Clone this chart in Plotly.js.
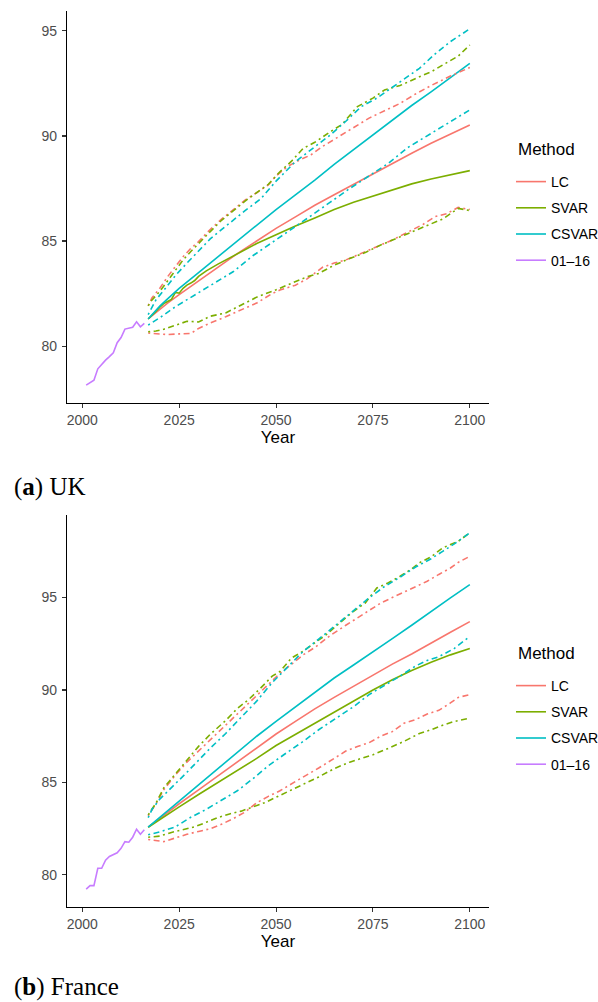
<!DOCTYPE html>
<html><head><meta charset="utf-8">
<script src="https://cdn.plot.ly/plotly-3.0.1.min.js"></script>
<style>html,body{margin:0;padding:0;background:#fff}#chart{width:598px;height:1002px}</style>
</head><body><div id="chart"></div>
<script>
// ---------------- DATA ----------------
const methods = ['LC', 'SVAR', 'CSVAR'];
const histLabel = '01\u201316';
const legendTitle = 'Method';
const xTicks = [2000, 2025, 2050, 2075, 2100];
const yTicks = [80, 85, 90, 95];

// UK
const ukHistYears = [2001,2002,2003,2004,2005,2006,2007,2008,2009,2010,2011,2012,2013,2014,2015,2016];
const ukHist = [78.14,78.27,78.38,78.92,79.14,79.33,79.5,79.68,80.16,80.41,80.81,80.86,80.9,81.16,80.92,81.08];

const ukMeanYears = [2017,2018,2019,2020,2022,2025,2030,2035,2040,2045,2050,2055,2060,2065,2070,2075,2080,2085,2090,2095,2100];
const ukLC = [81.29,81.45,81.6,81.75,82.05,82.45,83.1,83.75,84.4,85.0,85.6,86.15,86.7,87.2,87.7,88.2,88.7,89.18,89.65,90.1,90.52];
const ukCSVAR = [81.29,81.5,81.7,81.9,82.25,82.75,83.5,84.25,85.0,85.75,86.5,87.2,87.9,88.65,89.35,90.05,90.75,91.45,92.1,92.8,93.46];
const ukSVARYears = [2017,2018,2019,2020,2021,2022,2023,2024,2025,2026,2027,2028,2029,2030,2032,2035,2040,2045,2050,2055,2060,2065,2070,2075,2080,2085,2090,2095,2100];
const ukSVAR = [81.29,81.45,81.65,81.85,82.02,82.12,82.22,82.55,82.52,82.75,82.9,83.0,83.12,83.32,83.58,83.9,84.4,84.88,85.3,85.72,86.1,86.5,86.85,87.15,87.45,87.72,87.95,88.15,88.35];

const ukLCUpYears = [2017,2018,2020,2022,2024,2026,2028,2030,2033,2036,2039,2042,2045,2048,2050,2053,2056,2059,2062,2066,2070,2074,2078,2082,2086,2090,2095,2100];
const ukLCUp = [81.92,82.3,82.75,83.3,83.78,84.25,84.65,84.97,85.55,86.05,86.5,86.95,87.3,87.67,88.1,88.55,88.85,89.1,89.5,89.95,90.44,90.85,91.2,91.55,92.0,92.4,92.85,93.26];
const ukSVARUpYears = [2017,2018,2020,2022,2024,2026,2028,2030,2033,2036,2039,2042,2045,2048,2051,2054,2057,2060,2064,2067,2071,2075,2078,2082,2087,2090,2093,2097,2100];
const ukSVARUp = [81.92,82.2,82.6,83.1,83.55,84.1,84.5,84.9,85.45,86.0,86.45,86.9,87.3,87.7,88.3,88.8,89.41,89.7,90.2,90.55,91.4,91.8,92.19,92.4,92.82,93.05,93.38,93.8,94.33];
const ukCSVARUpYears = [2017,2019,2021,2024,2027,2030,2033,2036,2039,2042,2046,2050,2055,2060,2064,2068,2072,2076,2081,2084,2087,2091,2095,2100];
const ukCSVARUp = [81.5,82.2,82.65,83.35,83.95,84.55,85.1,85.55,86.0,86.45,87.0,87.85,88.78,89.5,90.05,90.7,91.4,91.8,92.43,92.8,93.22,93.9,94.49,95.1];

const ukLCLowYears = [2017,2019,2022,2025,2028,2030,2033,2037,2041,2045,2049,2051,2055,2058,2062,2065,2068,2072,2076,2080,2085,2088,2091,2094,2097,2100];
const ukLCLow = [80.62,80.58,80.55,80.58,80.6,80.84,81.1,81.4,81.71,82.05,82.5,82.67,82.9,83.2,83.75,83.95,84.1,84.4,84.73,85.05,85.5,85.8,86.16,86.3,86.6,86.5];
const ukSVARLowYears = [2017,2019,2021,2024,2027,2030,2033,2037,2040,2042,2045,2050,2054,2058,2061,2065,2069,2073,2077,2082,2087,2090,2093,2097,2100];
const ukSVARLow = [80.68,80.72,80.8,81.0,81.18,81.15,81.42,81.58,81.85,82.03,82.33,82.68,82.98,83.3,83.46,83.85,84.17,84.45,84.81,85.2,85.6,85.85,86.05,86.55,86.45];
const ukCSVARLowYears = [2017,2020,2024,2029,2034,2039,2044,2050,2055,2059,2064,2069,2074,2079,2084,2088,2093,2097,2100];
const ukCSVARLow = [81.0,81.35,81.87,82.43,82.95,83.55,84.3,85.05,85.7,86.2,86.85,87.5,88.1,88.7,89.45,89.9,90.44,90.9,91.24];

// France
const frHistYears = [2001,2002,2003,2004,2005,2006,2007,2008,2009,2010,2011,2012,2013,2014,2015,2016];
const frHist = [79.23,79.42,79.42,80.36,80.36,80.8,81.0,81.08,81.2,81.44,81.8,81.77,82.04,82.47,82.2,82.44];

const frMeanYears = [2017,2020,2025,2030,2035,2040,2045,2050,2055,2060,2065,2070,2075,2080,2085,2090,2095,2100];
const frLC = [82.58,83.07,83.85,84.6,85.35,86.1,86.88,87.62,88.3,88.98,89.6,90.2,90.8,91.4,91.95,92.55,93.12,93.7];
const frSVAR = [82.58,83.0,83.68,84.35,85.0,85.65,86.3,87.0,87.6,88.18,88.8,89.42,90.0,90.55,91.05,91.5,91.9,92.24];
const frCSVAR = [82.58,83.12,84.0,84.87,85.75,86.65,87.5,88.3,89.1,89.9,90.65,91.35,92.05,92.78,93.5,94.25,94.98,95.7];

const frSVARUpYears = [2017,2019,2021,2024,2026,2028,2030,2033,2037,2040,2043,2046,2049,2051,2054,2057,2060,2063,2066,2070,2073,2076,2079,2082,2085,2087,2090,2093,2097,2100];
const frSVARUp = [83.25,83.88,84.7,85.45,86.0,86.5,86.95,87.6,88.35,89.0,89.5,90.1,90.75,91.0,91.73,92.1,92.54,93.0,93.55,94.26,94.7,95.52,95.8,96.15,96.55,96.88,97.2,97.69,98.04,98.5];
const frLCUpYears = [2017,2019,2021,2024,2027,2030,2033,2037,2040,2044,2048,2051,2054,2057,2060,2064,2068,2071,2074,2077,2080,2083,2086,2089,2092,2095,2097,2100];
const frLCUp = [83.2,83.85,84.6,85.4,86.1,86.7,87.35,88.1,88.7,89.5,90.3,90.9,91.4,91.9,92.3,92.95,93.5,93.9,94.3,94.7,95.0,95.3,95.6,95.88,96.25,96.6,96.9,97.23];
const frCSVARUpYears = [2017,2018,2020,2022,2024,2027,2030,2033,2037,2041,2045,2049,2053,2057,2061,2065,2070,2074,2078,2082,2086,2090,2093,2096,2100];
const frCSVARUp = [83.1,83.55,84.1,84.5,84.9,85.55,86.2,86.85,87.65,88.5,89.4,90.4,91.25,92.09,92.75,93.45,94.3,94.98,95.6,96.1,96.65,97.1,97.5,97.9,98.5];

const frCSVARLowYears = [2017,2020,2024,2028,2032,2036,2040,2044,2048,2052,2057,2061,2065,2070,2074,2078,2082,2086,2089,2092,2096,2100];
const frCSVARLow = [82.17,82.33,82.6,83.12,83.55,84.05,84.55,85.2,85.9,86.5,87.22,87.85,88.42,89.1,89.75,90.25,90.75,91.3,91.6,91.8,92.25,92.9];
const frLCLowYears = [2017,2019,2021,2024,2027,2030,2033,2036,2039,2042,2045,2048,2051,2055,2058,2061,2065,2068,2071,2074,2077,2080,2083,2086,2089,2092,2095,2097,2100];
const frLCLow = [81.92,81.85,81.8,82.0,82.2,82.35,82.5,82.75,83.05,83.4,83.9,84.25,84.55,85.05,85.4,85.78,86.3,86.7,86.95,87.15,87.5,87.75,88.2,88.4,88.7,88.9,89.3,89.6,89.75];
const frSVARLowYears = [2017,2020,2023,2026,2029,2032,2035,2038,2041,2044,2047,2050,2053,2057,2061,2065,2069,2072,2075,2079,2083,2087,2090,2093,2096,2100];
const frSVARLow = [82.04,82.1,82.3,82.44,82.6,82.85,83.1,83.3,83.45,83.68,83.9,84.2,84.5,84.87,85.3,85.75,86.1,86.3,86.5,86.85,87.22,87.65,87.85,88.1,88.3,88.48];

// ---------------- STYLE ----------------
const colors = {LC:'#F8766D', SVAR:'#7CAE00', CSVAR:'#00BFC4', hist:'#C77CFF'};
const FONT = 'Liberation Sans, Arial, Helvetica, sans-serif';
const SERIF = 'Liberation Serif, DejaVu Serif, serif';
const LW = 1.6;
const DOTDASH = '2px,3.5px,6px,3.5px';

function panel(p, xa, ya, leg, d) {
  const tr = [];
  const add = (name, x, y, color, dash, show, grp) => tr.push({
    type:'scatter', mode:'lines', x, y, name, xaxis:xa, yaxis:ya, legend:leg,
    legendgroup:p+grp, showlegend:show,
    line:{color, width:LW, dash}, hoverinfo:'x+y+name'
  });
  add(methods[0], d.meanYears, d.LC, colors.LC, 'solid', true, 'LC');
  add(methods[1], d.svarYears, d.SVAR, colors.SVAR, 'solid', true, 'SVAR');
  add(methods[2], d.meanYears, d.CSVAR, colors.CSVAR, 'solid', true, 'CSVAR');
  add(histLabel, d.histYears, d.hist, colors.hist, 'solid', true, 'hist');
  add(methods[0], d.lcUpYears, d.lcUp, colors.LC, DOTDASH, false, 'LC');
  add(methods[0], d.lcLowYears, d.lcLow, colors.LC, DOTDASH, false, 'LC');
  add(methods[1], d.svarUpYears, d.svarUp, colors.SVAR, DOTDASH, false, 'SVAR');
  add(methods[1], d.svarLowYears, d.svarLow, colors.SVAR, DOTDASH, false, 'SVAR');
  add(methods[2], d.csvarUpYears, d.csvarUp, colors.CSVAR, DOTDASH, false, 'CSVAR');
  add(methods[2], d.csvarLowYears, d.csvarLow, colors.CSVAR, DOTDASH, false, 'CSVAR');
  return tr;
}

const ukTraces = panel('uk','x','y','legend',{
  meanYears:ukMeanYears, LC:ukLC, CSVAR:ukCSVAR, svarYears:ukSVARYears, SVAR:ukSVAR,
  histYears:ukHistYears, hist:ukHist,
  lcUpYears:ukLCUpYears, lcUp:ukLCUp, lcLowYears:ukLCLowYears, lcLow:ukLCLow,
  svarUpYears:ukSVARUpYears, svarUp:ukSVARUp, svarLowYears:ukSVARLowYears, svarLow:ukSVARLow,
  csvarUpYears:ukCSVARUpYears, csvarUp:ukCSVARUp, csvarLowYears:ukCSVARLowYears, csvarLow:ukCSVARLow
});
const frTraces = panel('fr','x2','y2','legend2',{
  meanYears:frMeanYears, LC:frLC, CSVAR:frCSVAR, svarYears:frMeanYears, SVAR:frSVAR,
  histYears:frHistYears, hist:frHist,
  lcUpYears:frLCUpYears, lcUp:frLCUp, lcLowYears:frLCLowYears, lcLow:frLCLow,
  svarUpYears:frSVARUpYears, svarUp:frSVARUp, svarLowYears:frSVARLowYears, svarLow:frSVARLow,
  csvarUpYears:frCSVARUpYears, csvarUp:frCSVARUp, csvarLowYears:frCSVARLowYears, csvarLow:frCSVARLow
});

function expand(traces) {
  let lo = Infinity, hi = -Infinity;
  traces.forEach(t => t.y.forEach(v => { lo = Math.min(lo, v); hi = Math.max(hi, v); }));
  const pad = (hi - lo) * 0.05;
  return [lo - pad, hi + pad];
}
const xRange = [2001 - 99*0.05, 2100 + 99*0.05];

function xAxis(anchor) {
  return {
    domain:[67/598, 489/598], anchor, range:xRange,
    tickvals:xTicks, ticktext:xTicks.map(String),
    showline:true, linecolor:'#000', linewidth:1.2, mirror:false,
    ticks:'outside', ticklen:4, tickwidth:1.1, tickcolor:'#333',
    tickfont:{family:FONT, size:14, color:'#4d4d4d'},
    showgrid:false, zeroline:false, fixedrange:true, automargin:false,
    title:{text:'Year', font:{family:FONT, size:17, color:'#000'}, standoff:4}
  };
}
function yAxis(anchor, domain, range) {
  return {
    domain, anchor, range,
    tickvals:yTicks, ticktext:yTicks.map(String),
    showline:true, linecolor:'#000', linewidth:1.2,
    ticks:'outside', ticklen:4, tickwidth:1.1, tickcolor:'#333',
    tickfont:{family:FONT, size:14, color:'#4d4d4d'},
    showgrid:false, zeroline:false, fixedrange:true, automargin:false, ticklabelstandoff:2
  };
}
function legendAt(topPx) {
  return {
    x:511/598, xanchor:'left', y:1 - topPx/1002, yanchor:'top',
    bgcolor:'rgba(0,0,0,0)', borderwidth:0,
    font:{family:FONT, size:14, color:'#000'},
    traceorder:'grouped', tracegroupgap:5
  };
}
function legendTitleAnn(yPx) {
  return {text:legendTitle, xref:'paper', yref:'paper', x:516/598, y:1 - yPx/1002,
    xanchor:'left', yanchor:'middle', showarrow:false,
    font:{family:FONT, size:17, color:'#000'}};
}
function caption(html, yPx) {
  return {text:html, xref:'paper', yref:'paper', x:12/598, y:1 - yPx/1002,
    xanchor:'left', yanchor:'middle', showarrow:false,
    font:{family:SERIF, size:25, color:'#000'}};
}

const layout = {
  width:598, height:1002, autosize:false,
  margin:{l:0, r:0, t:0, b:0, autoexpand:false},
  paper_bgcolor:'#fff', plot_bgcolor:'#fff',
  font:{family:FONT},
  showlegend:true,
  xaxis:xAxis('y'),
  yaxis:yAxis('x', [1 - 403/1002, 1 - 11/1002], expand(ukTraces)),
  xaxis2:xAxis('y2'),
  yaxis2:yAxis('x2', [1 - 907/1002, 1 - 515/1002], expand(frTraces)),
  legend:legendAt(166),
  legend2:legendAt(670),
  annotations:[
    legendTitleAnn(149), legendTitleAnn(653),
    caption('(<b>a</b>) UK', 487),
    caption('(<b>b</b>) France', 987)
  ]
};

Plotly.newPlot('chart', ukTraces.concat(frTraces), layout, {displayModeBar:false, staticPlot:true});
</script>
</body></html>
